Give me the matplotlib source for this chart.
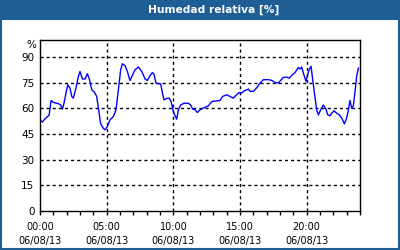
import matplotlib
matplotlib.use("Agg")
import matplotlib.pyplot as plt
from matplotlib.patches import Rectangle
from matplotlib.ticker import MultipleLocator, FixedLocator

title = "Humedad relativa [%]"
unit = "%"
hours = [0.05, 0.17, 0.38, 0.68, 0.83, 1.0, 1.38, 1.55, 1.68, 1.8, 1.95, 2.08, 2.25, 2.38, 2.5,
         2.7, 2.88, 3.0, 3.18, 3.38, 3.55, 3.7, 3.88, 4.08, 4.25, 4.43, 4.55, 4.75, 4.88, 5.05,
         5.25, 5.5, 5.7, 5.88, 6.05, 6.18, 6.38, 6.55, 6.75, 6.95, 7.13, 7.38, 7.63, 7.88, 8.05,
         8.25, 8.43, 8.55, 8.7, 8.88, 9.05, 9.18, 9.3, 9.5, 9.68, 9.83, 10.0, 10.13, 10.25, 10.38,
         10.55, 10.8, 11.13, 11.3, 11.45, 11.63, 11.8, 11.95,
         12.0, 12.38, 12.63, 12.88, 13.25, 13.5, 13.7, 14.0, 14.25, 14.5, 14.75, 14.95, 15.13,
         15.33, 15.63, 15.75, 16.0, 16.25, 16.5, 16.75, 17.13, 17.38, 17.63, 17.88, 18.05, 18.25,
         18.5, 18.7, 18.88, 19.13, 19.38, 19.5, 19.63, 19.75, 19.95, 20.08, 20.2, 20.33, 20.45,
         20.63, 20.75, 20.88, 21.05, 21.25, 21.45, 21.58, 21.75, 21.88, 22.05, 22.25, 22.45,
         22.63, 22.83, 23.0, 23.13, 23.25, 23.38, 23.5, 23.63, 23.75, 23.88]
humidity = [53, 52, 54, 56, 64.6, 63.5, 62.8, 62, 59.6, 63, 69, 73.8, 71.9, 67, 66,
            72, 78.7, 81.6, 77.2, 77.2, 80.3, 77.2, 70.9, 69.5, 67, 57.2, 51, 48.4, 47.4, 49.4,
            53.3, 55.2, 59.2, 70.9, 82.6, 86.1, 85, 81.6, 76.3, 79.7, 82.6, 84.2, 81.6, 77.2, 76.3,
            79.1, 81, 80, 74.8, 74.4, 74.4, 69, 65, 65.8, 66, 64, 58.2, 55.7, 53.7, 59.2,
            62, 63, 63, 62, 59.6, 59.2, 57.6, 58.8,
            59.2, 60.7, 61.5, 64, 64.4, 64.6, 67, 68, 67, 66, 68, 69.3, 69,
            70.3, 71.3, 70, 70, 72, 74.8, 76.8, 76.8, 76.4, 75.2, 74.8, 76.4, 78.1,
            78.3, 77.7, 79.3, 81, 84, 83, 84.2, 80.7, 75.8, 79.7, 83, 84.6, 76.8,
            66, 59.2, 56.2, 59.2, 62, 59.6, 56.2, 55.7, 57.2, 58.6, 57.2, 56.2,
            54.3, 51, 54.3, 59.2, 64.6, 60, 61.5, 70, 78.7, 83.6]
yticks = [0, 15, 30, 45, 60, 75, 90]
xticks = [0, 5, 10, 15, 20]
xticklabels = ["00:00\n06/08/13", "05:00\n06/08/13", "10:00\n06/08/13",
               "15:00\n06/08/13", "20:00\n06/08/13"]

blue = "#1f5d95"
fig = plt.figure(figsize=(4, 2.5), dpi=100)
fig.patch.set_facecolor("white")
fig.add_artist(Rectangle((0, 0.92), 1, 0.08, transform=fig.transFigure,
                         facecolor=blue, edgecolor="none", zorder=0))
fig.add_artist(Rectangle((0.0025, 0.004), 0.995, 0.99, transform=fig.transFigure,
                         facecolor="none", edgecolor=blue, linewidth=1.5, zorder=5))
fig.text(0.533, 0.96, title, color="white", fontsize=7.7, fontweight="bold",
         ha="center", va="center")

ax = fig.add_axes([0.1, 0.156, 0.8, 0.684])
ax.plot(hours, humidity, color="#0000ff", lw=1)
ax.set_xlim(0, 24)
ax.set_ylim(0, 100)
ax.set_yticks(yticks)
ax.xaxis.set_major_locator(FixedLocator(xticks))
ax.set_xticklabels(xticklabels, fontsize=7, linespacing=1.45)
ax.xaxis.set_minor_locator(MultipleLocator(1))
ax.tick_params(axis="y", length=0, labelsize=7.5, pad=4)
ax.tick_params(axis="x", which="both", length=3, width=1, direction="out", pad=5)
for s in ax.spines.values():
    s.set_linewidth(1)
    s.set_color("black")
for v in yticks[1:]:
    ax.axhline(v, color="black", lw=1, ls=(0, (2.2, 2.2)), zorder=0.5)
for v in xticks[1:]:
    ax.axvline(v, color="black", lw=1, ls=(0, (2.2, 2.2)), zorder=0.5)
ax.text(-0.012, 0.973, unit, transform=ax.transAxes, ha="right", va="center", fontsize=7.5)

fig.savefig("out.png", dpi=100)
